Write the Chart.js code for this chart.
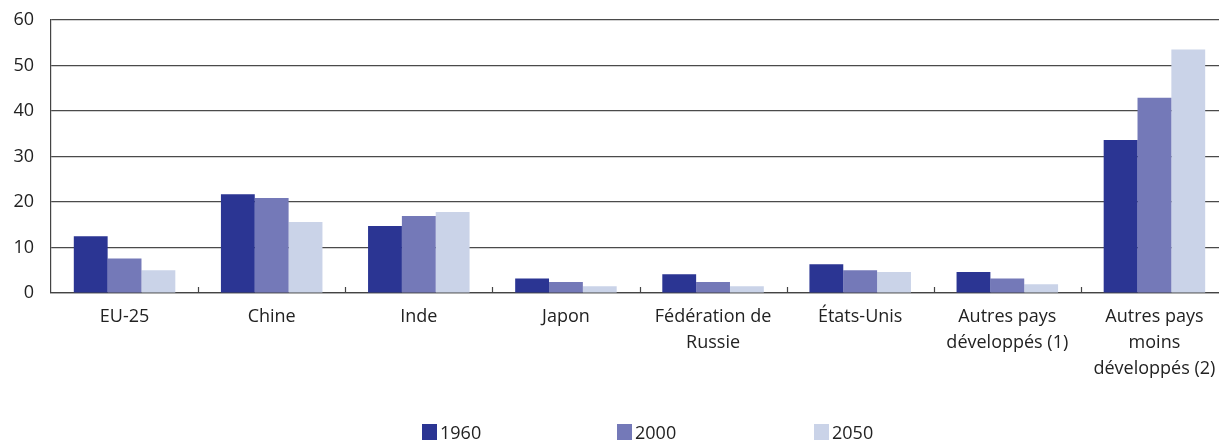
<!DOCTYPE html>
<html>
<head>
<meta charset="utf-8">
<script src="https://cdn.jsdelivr.net/npm/chart.js@4"></script>
<style>
  html, body { margin: 0; padding: 0; background: #fff; overflow: hidden; }
  #wrap { position: relative; width: 1228px; height: 442px; }
  #legend { position: absolute; top: 422px; left: 0; width: 1219px; font: 18px "Open Sans", sans-serif; color: #222; }
  .item { position: absolute; top: 0; display: flex; align-items: center; height: 20px; }
  .box { width: 15px; height: 16px; margin-right: 3px; }
</style>
</head>
<body>
<div id="wrap">
  <canvas id="c" width="1228" height="442"></canvas>
  <div id="legend"></div>
</div>
<script>
const categories = [
    'EU-25', 'Chine', 'Inde', 'Japon', ['Fédération de', 'Russie'], 'États-Unis',
    ['Autres pays', 'développés (1)'], ['Autres pays', 'moins', 'développés (2)']
];
const years = ['1960', '2000', '2050'];
const values1960 = [12.5, 21.7, 14.7, 3.2, 4.1, 6.3, 4.6, 33.6];
const values2000 = [7.6, 20.9, 16.9, 2.4, 2.4, 5.0, 3.2, 42.9];
const values2050 = [5.0, 15.6, 17.8, 1.5, 1.5, 4.6, 1.9, 53.5];
const yTicks = [0, 10, 20, 30, 40, 50, 60];

const colors = ['#2b3593', '#7479b8', '#cad3e8'];
const font = '"Open Sans", sans-serif';

// short tick marks between categories, pointing up from the x axis
const catTicks = {
    id: 'catTicks',
    afterDatasetsDraw(chart) {
        const x = chart.scales.x, ctx = chart.ctx, bottom = chart.chartArea.bottom;
        ctx.save();
        ctx.strokeStyle = '#444'; ctx.lineWidth = 1.2;
        for (let i = 1; i < categories.length; i++) {
            const px = Math.round((x.getPixelForTick(i - 1) + x.getPixelForTick(i)) / 2) + 0.5;
            ctx.beginPath(); ctx.moveTo(px, bottom - 6); ctx.lineTo(px, bottom); ctx.stroke();
        }
        ctx.restore();
    }
};

new Chart(document.getElementById('c'), {
    type: 'bar',
    data: {
        labels: categories,
        datasets: [
            { label: years[0], data: values1960, backgroundColor: colors[0] },
            { label: years[1], data: values2000, backgroundColor: colors[1] },
            { label: years[2], data: values2050, backgroundColor: colors[2] },
        ],
    },
    options: {
        responsive: false,
        animation: false,
        layout: { padding: { top: 20, right: 0, left: 0, bottom: 0 } },
        datasets: { bar: { barPercentage: 1, categoryPercentage: 0.69 } },
        plugins: { legend: { display: false }, tooltip: { enabled: false } },
        scales: {
            x: {
                grid: { display: false, drawTicks: false },
                border: { display: true, color: '#444', width: 1.2 },
                ticks: { color: '#222', font: { family: font, size: 18, lineHeight: 1.45 }, padding: 11, maxRotation: 0, autoSkip: false },
                afterFit(s) { s.height = 149; },
            },
            y: {
                min: 0, max: 60,
                afterBuildTicks(s) { s.ticks = yTicks.map(v => ({ value: v })); },
                grid: { color: '#4a4a4a', lineWidth: 1.2, drawTicks: false },
                border: { display: true, color: '#444', width: 1.2 },
                ticks: { color: '#222', font: { family: font, size: 18 }, padding: 17 },
                afterFit(s) { s.width = 51; s.paddingTop = 0; s.paddingBottom = 0; },
            },
        },
    },
    plugins: [catTicks],
});

// legend
const lg = document.getElementById('legend');
const legendX = [422, 617, 814];
years.forEach((y, i) => {
    const d = document.createElement('div');
    d.className = 'item';
    d.style.left = legendX[i] + 'px';
    d.innerHTML = '<span class="box" style="background:' + colors[i] + '"></span>' + y;
    lg.appendChild(d);
});
</script>
</body>
</html>
